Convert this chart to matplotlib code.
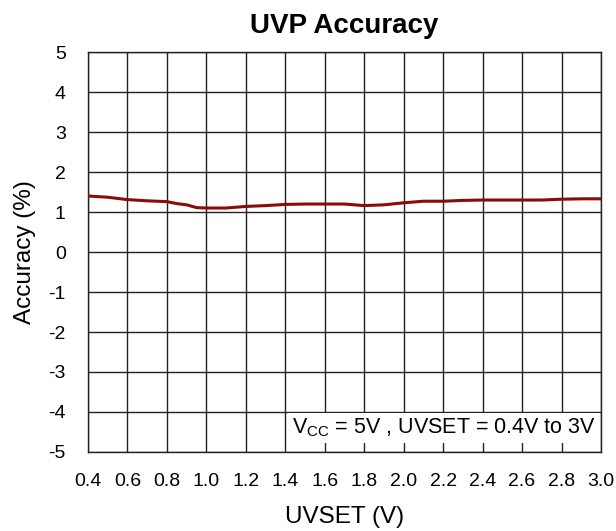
import matplotlib

matplotlib.use("Agg")
import matplotlib.pyplot as plt

# UVSET (V) vs accuracy (%)
uvset_v = [0.4, 0.5, 0.6, 0.7, 0.8, 0.85, 0.9, 0.95, 1.0, 1.1, 1.2, 1.3, 1.4,
           1.5, 1.6, 1.7, 1.8, 1.9, 2.0, 2.1, 2.2, 2.3, 2.4, 2.5, 2.6, 2.7,
           2.8, 2.9, 3.0]
accuracy_pct = [1.40, 1.37, 1.31, 1.28, 1.26, 1.21, 1.18, 1.11, 1.10, 1.10,
                1.14, 1.16, 1.19, 1.20, 1.20, 1.20, 1.16, 1.18, 1.23, 1.27,
                1.27, 1.29, 1.30, 1.30, 1.30, 1.30, 1.32, 1.33, 1.33]

x_ticks = [0.4 + 0.2 * i for i in range(14)]
y_ticks = list(range(-5, 6))

plt.rcParams["font.family"] = ["Liberation Sans", "DejaVu Sans"]
plt.rcParams["mathtext.fontset"] = "custom"
plt.rcParams["mathtext.rm"] = "Liberation Sans"
plt.rcParams["axes.unicode_minus"] = False

fig = plt.figure(figsize=(6.16, 5.31), dpi=100)
ax = fig.add_axes([0.1429, 0.1488, 0.9756 - 0.1429, 0.902 - 0.1488])

ax.plot(uvset_v, accuracy_pct, color="#8b0a0a", lw=2.2, zorder=3)

ax.set_xlim(0.4, 3.0)
ax.set_ylim(-5, 5)
ax.set_xticks(x_ticks)
ax.set_xticklabels([f"{t:.1f}" for t in x_ticks])
ax.set_yticks(y_ticks)
ax.tick_params(axis="both", length=0, labelsize=14)
ax.tick_params(axis="x", pad=15)
ax.tick_params(axis="y", pad=16)
ax.grid(True, color="#222222", lw=1.0, zorder=1)
for s in ax.spines.values():
    s.set_color("#222222")
    s.set_linewidth(1.0)

ax.set_title("UVP Accuracy", fontsize=20, fontweight="bold", pad=14)
ax.set_xlabel("UVSET (V)", fontsize=17.5, labelpad=12)
ax.set_ylabel("Accuracy (%)", fontsize=17.5, labelpad=9)

ax.text(0.990, 0.06, r"V$_{\mathrm{CC}}$ = 5V , UVSET = 0.4V to 3V",
        transform=ax.transAxes, ha="right", va="center", fontsize=15.5,
        zorder=4, bbox=dict(facecolor="white", edgecolor="none", pad=3))

fig.savefig("out.png", dpi=100)
